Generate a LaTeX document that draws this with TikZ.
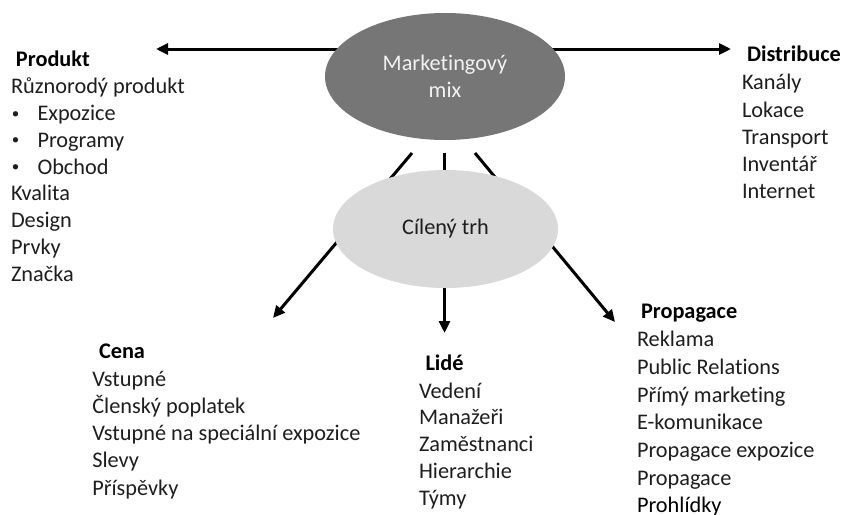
\documentclass[tikz,border=0pt]{standalone}
\usepackage{fontspec}
\setmainfont{Carlito}[Ligatures={NoCommon}]
\usetikzlibrary{arrows.meta,backgrounds,shapes.geometric}
\definecolor{mmgray}{RGB}{118,118,118}
\definecolor{ctgray}{RGB}{217,217,217}
\definecolor{txt}{RGB}{30,30,30}
\definecolor{mmtxt}{RGB}{242,242,242}
\newcommand{\bulitem}{\makebox[26.5pt][l]{\hspace{1pt}\raisebox{2.2pt}{\fontsize{15}{15}\selectfont\textbullet}}}
\begin{document}
\begin{tikzpicture}[x=1pt,y=-1pt,
  every node/.style={inner sep=0pt, outer sep=0pt},
  head/.style={font=\fontsize{22.3}{27}\selectfont\bfseries, text=black, anchor=base west},
  list/.style={font=\fontsize{22.3}{#1}\selectfont, text=txt, align=left, anchor=north west},
  list/.default=27,
  oval/.style={ellipse, font=\fontsize{22.3}{27}\selectfont, align=center},
  arr/.style={line width=3pt, -{Triangle[length=12pt,width=11pt]}}
  ]
\useasboundingbox (0,0) rectangle (843,514);

% ovals
\node[oval, fill=mmgray, text=mmtxt, minimum width=240pt, minimum height=127pt] (mm) at (445,76.5) {Marketingový\\mix};
\node[oval, fill=ctgray, text=txt, minimum width=225pt, minimum height=118pt] (ct) at (445.5,229) {Cílený trh};

% headings
\node[head] (hP) at (16,66.5) {Produkt};
\node[head] (hD) at (747,61.7) {Distribuce};
\node[head] (hC) at (99,358.3) {Cena};
\node[head] (hL) at (425.5,370) {Lidé};
\node[head] (hR) at (641,318.3) {Propagace};

% lists (first baseline = y + 0.7*baselineskip)
\node[list=26.9] (lP) at (11,74.5) {\strut Různorodý produkt\\
  \bulitem Expozice\\
  \bulitem Programy\\
  \bulitem Obchod\\
  Kvalita\\ Design\\ Prvky\\ Značka};
\node[list=27.1] (lD) at (742,71) {\strut Kanály\\ Lokace\\ Transport\\ Inventář\\ Internet};
\node[list=27.1] (lC) at (92.3,367.7) {\strut Vstupné\\ Členský poplatek\\ Vstupné na speciální expozice\\ Slevy\\ Příspěvky};
\node[list=26.7] (lL) at (419,379.6) {\strut Vedení\\ Manažeři\\ Zaměstnanci\\ Hierarchie\\ Týmy};
\node[list=27.7] (lR) at (637,327.3) {\strut Reklama\\ Public Relations\\ Přímý marketing\\ E-komunikace\\ Propagace expozice\\ Propagace\\ \textcolor{black}{Prohlídky}};

% connector end points
\coordinate (tP) at (156,49);
\coordinate (tD) at (731,49);
\coordinate (sC) at (412,153);
\coordinate (tC) at (273,318);
\coordinate (sL) at (444.5,153);
\coordinate (tL) at (444.5,333);
\coordinate (sR) at (475,153);
\coordinate (tR) at (615,322);

\begin{scope}[on background layer]
  \fill[white] (0,0) rectangle (843,514);
  \draw[arr] (mm.center |- tP) -- (tP);
  \draw[arr] (mm.center |- tD) -- (tD);
  \draw[arr] (sC) -- (tC);
  \draw[arr] (sL) -- (tL);
  \draw[arr] (sR) -- (tR);
\end{scope}
\end{tikzpicture}
\end{document}
